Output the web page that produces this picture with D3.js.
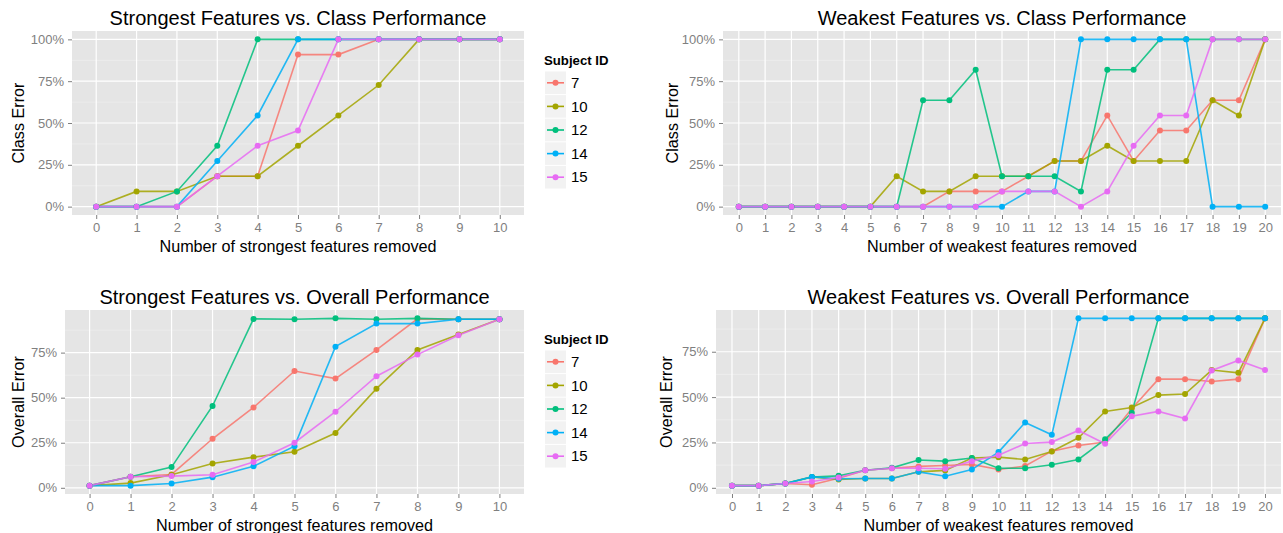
<!DOCTYPE html>
<html lang="en">
<head>
<meta charset="UTF-8">
<title>Feature removal vs. performance</title>
<script src="https://d3js.org/d3.v7.min.js"></script>
<style>
  body { margin: 0; background: #fff; }
  svg text { font-family: "Liberation Sans", Arial, Helvetica, sans-serif; }
  .tick-label { fill: #7f7f7f; font-size: 13px; }
  .axis-title { fill: #000; font-size: 16.2px; }
  .plot-title { fill: #000; font-size: 20px; }
</style>
</head>
<body>
<div id="chart"></div>
<script>
// subjects and colours (ggplot default hues)
const subjects = ["7", "10", "12", "14", "15"];
const colors = ["#F8766D", "#A3A500", "#00BF7D", "#00B0F6", "#E76BF3"];

const yTicks = [0, 0.25, 0.5, 0.75, 1];

// strongest features removed (0..10), class error
const strongSteps = d3.range(0, 11);
const strongClass = {
  "7":  [0, 0, 0, 0.182, 0.182, 0.909, 0.909, 1, 1, 1, 1],
  "10": [0, 0.091, 0.091, 0.182, 0.182, 0.364, 0.545, 0.727, 1, 1, 1],
  "12": [0, 0, 0.091, 0.364, 1, 1, 1, 1, 1, 1, 1],
  "14": [0, 0, 0, 0.273, 0.545, 1, 1, 1, 1, 1, 1],
  "15": [0, 0, 0, 0.182, 0.364, 0.455, 1, 1, 1, 1, 1]
};

// weakest features removed (0..20), class error
const weakSteps = d3.range(0, 21);
const weakClass = {
  "7":  [0, 0, 0, 0, 0, 0, 0, 0, 0.091, 0.091, 0.091, 0.182, 0.273, 0.273, 0.545, 0.273, 0.455, 0.455, 0.636, 0.636, 1],
  "10": [0, 0, 0, 0, 0, 0, 0.182, 0.091, 0.091, 0.182, 0.182, 0.182, 0.273, 0.273, 0.364, 0.273, 0.273, 0.273, 0.636, 0.545, 1],
  "12": [0, 0, 0, 0, 0, 0, 0, 0.636, 0.636, 0.818, 0.182, 0.182, 0.182, 0.091, 0.818, 0.818, 1, 1, 1, 1, 1],
  "14": [0, 0, 0, 0, 0, 0, 0, 0, 0, 0, 0, 0.091, 0.091, 1, 1, 1, 1, 1, 0, 0, 0],
  "15": [0, 0, 0, 0, 0, 0, 0, 0, 0, 0, 0.091, 0.091, 0.091, 0, 0.091, 0.364, 0.545, 0.545, 1, 1, 1]
};

// strongest features removed, overall error
const strongOverall = {
  "7":  [0.012, 0.061, 0.074, 0.272, 0.446, 0.648, 0.606, 0.765, 0.937, 0.935, 0.935],
  "10": [0.012, 0.026, 0.072, 0.135, 0.170, 0.200, 0.304, 0.550, 0.765, 0.850, 0.935],
  "12": [0.012, 0.061, 0.115, 0.454, 0.937, 0.935, 0.940, 0.935, 0.940, 0.935, 0.935],
  "14": [0.012, 0.012, 0.024, 0.059, 0.119, 0.231, 0.783, 0.911, 0.911, 0.935, 0.935],
  "15": [0.012, 0.061, 0.065, 0.072, 0.143, 0.250, 0.422, 0.619, 0.739, 0.846, 0.935]
};

// weakest features removed, overall error
const weakOverall = {
  "7":  [0.012, 0.012, 0.024, 0.017, 0.053, 0.097, 0.108, 0.118, 0.123, 0.129, 0.101, 0.120, 0.202, 0.233, 0.252, 0.436, 0.599, 0.599, 0.586, 0.599, 0.934],
  "10": [0.012, 0.012, 0.024, 0.060, 0.046, 0.051, 0.051, 0.088, 0.096, 0.164, 0.169, 0.156, 0.200, 0.276, 0.421, 0.443, 0.511, 0.517, 0.649, 0.634, 0.934],
  "12": [0.012, 0.012, 0.024, 0.060, 0.066, 0.097, 0.110, 0.153, 0.147, 0.164, 0.108, 0.108, 0.127, 0.156, 0.267, 0.414, 0.934, 0.934, 0.934, 0.934, 0.934],
  "14": [0.012, 0.012, 0.024, 0.060, 0.050, 0.051, 0.051, 0.088, 0.064, 0.101, 0.197, 0.360, 0.292, 0.934, 0.934, 0.934, 0.934, 0.934, 0.934, 0.934, 0.934],
  "15": [0.012, 0.012, 0.024, 0.035, 0.057, 0.097, 0.108, 0.108, 0.105, 0.147, 0.180, 0.244, 0.252, 0.316, 0.243, 0.395, 0.421, 0.382, 0.647, 0.702, 0.649]
};

const W = 1283, H = 533;
const svg = d3.select("#chart").append("svg")
  .attr("width", W).attr("height", H);

const panels = [
  { title: "Strongest Features vs. Class Performance", xTitle: "Number of strongest features removed",
    yTitle: "Class Error", steps: strongSteps, data: strongClass,
    left: 72, right: 524, top: 31, bottom: 215, legend: true, yTitleX: 18 },
  { title: "Weakest Features vs. Class Performance", xTitle: "Number of weakest features removed",
    yTitle: "Class Error", steps: weakSteps, data: weakClass,
    left: 723, right: 1281, top: 31, bottom: 215, legend: false, yTitleX: 672 },
  { title: "Strongest Features vs. Overall Performance", xTitle: "Number of strongest features removed",
    yTitle: "Overall Error", steps: strongSteps, data: strongOverall,
    left: 65, right: 524, top: 310, bottom: 494, legend: true, yTitleX: 18 },
  { title: "Weakest Features vs. Overall Performance", xTitle: "Number of weakest features removed",
    yTitle: "Overall Error", steps: weakSteps, data: weakOverall,
    left: 716, right: 1281, top: 310, bottom: 494, legend: false, yTitleX: 666 }
];

panels.forEach(function (p) {
  const g = svg.append("g");

  const x = d3.scalePoint()
    .domain(p.steps)
    .range([p.left, p.right])
    .padding(0.6);

  // ggplot style 5% expansion of the data range
  const all = subjects.flatMap(s => p.data[s]);
  const lo = d3.min(all), hi = d3.max(all), ex = (hi - lo) * 0.05;
  const y = d3.scaleLinear().domain([lo - ex, hi + ex]).range([p.bottom, p.top]);

  const ticks = yTicks.filter(t => t >= lo - ex && t <= hi + ex);
  const minor = d3.range(-0.125, 1.2, 0.25).filter(t => t > lo - ex && t < hi + ex);

  // panel background
  g.append("rect")
    .attr("x", p.left).attr("y", p.top)
    .attr("width", p.right - p.left).attr("height", p.bottom - p.top)
    .attr("fill", "#e5e5e5");

  // minor grid
  g.selectAll(".minor").data(minor).enter().append("line")
    .attr("x1", p.left).attr("x2", p.right)
    .attr("y1", d => y(d)).attr("y2", d => y(d))
    .attr("stroke", "#f2f2f2").attr("stroke-width", 0.6);

  // major grid
  g.selectAll(".hmajor").data(ticks).enter().append("line")
    .attr("x1", p.left).attr("x2", p.right)
    .attr("y1", d => y(d)).attr("y2", d => y(d))
    .attr("stroke", "#fff").attr("stroke-width", 1.2);
  g.selectAll(".vmajor").data(p.steps).enter().append("line")
    .attr("x1", d => x(d)).attr("x2", d => x(d))
    .attr("y1", p.top).attr("y2", p.bottom)
    .attr("stroke", "#fff").attr("stroke-width", 1.2);

  // y axis
  const yAxis = g.append("g")
    .attr("transform", "translate(" + p.left + ",0)")
    .call(d3.axisLeft(y).tickValues(ticks).tickSize(4).tickPadding(4)
      .tickFormat(d => Math.round(d * 100) + "%"));
  yAxis.select(".domain").remove();
  yAxis.selectAll("line").attr("stroke", "#7f7f7f");
  yAxis.selectAll("text").attr("class", "tick-label").attr("font-family", null).attr("font-size", null);

  // x axis
  const xAxis = g.append("g")
    .attr("transform", "translate(0," + p.bottom + ")")
    .call(d3.axisBottom(x).tickSize(4).tickPadding(4));
  xAxis.select(".domain").remove();
  xAxis.selectAll("line").attr("stroke", "#7f7f7f");
  xAxis.selectAll("text").attr("class", "tick-label").attr("font-family", null).attr("font-size", null);

  // titles
  const cx = (p.left + p.right) / 2;
  g.append("text").attr("class", "plot-title")
    .attr("x", cx).attr("y", p.top - 6).attr("text-anchor", "middle")
    .text(p.title);
  g.append("text").attr("class", "axis-title")
    .attr("x", cx).attr("y", p.bottom + 37).attr("text-anchor", "middle")
    .text(p.xTitle);
  g.append("text").attr("class", "axis-title")
    .attr("transform", "translate(" + (p.yTitleX + 6) + "," + ((p.top + p.bottom) / 2) + ") rotate(-90)")
    .attr("text-anchor", "middle")
    .text(p.yTitle);

  // series
  const line = d3.line().x((d, i) => x(p.steps[i])).y(d => y(d));
  subjects.forEach(function (s, k) {
    g.append("path")
      .datum(p.data[s])
      .attr("d", line)
      .attr("fill", "none")
      .attr("stroke", colors[k])
      .attr("stroke-opacity", 0.85)
      .attr("stroke-width", 1.6);
  });
  subjects.forEach(function (s, k) {
    g.selectAll(".pt" + k).data(p.data[s]).enter().append("circle")
      .attr("cx", (d, i) => x(p.steps[i]))
      .attr("cy", d => y(d))
      .attr("r", 3)
      .attr("fill", colors[k]);
  });

  // legend
  if (p.legend) {
    const lx = 544, ly = p.top + 37.5;
    const lg = g.append("g");
    lg.append("text")
      .attr("x", lx).attr("y", ly - 4)
      .attr("font-size", "13.2px").attr("font-weight", "bold")
      .text("Subject ID");
    subjects.forEach(function (s, k) {
      const ry = ly + 3 + k * 23.6;
      lg.append("rect")
        .attr("x", lx + 1).attr("y", ry)
        .attr("width", 21).attr("height", 22.6)
        .attr("fill", "#f2f2f2");
      lg.append("line")
        .attr("x1", lx + 3).attr("x2", lx + 20)
        .attr("y1", ry + 11.3).attr("y2", ry + 11.3)
        .attr("stroke", colors[k]).attr("stroke-width", 1.6);
      lg.append("circle")
        .attr("cx", lx + 11.5).attr("cy", ry + 11.3).attr("r", 3)
        .attr("fill", colors[k]);
      lg.append("text")
        .attr("x", lx + 27).attr("y", ry + 16.5)
        .attr("font-size", "15px").attr("fill", "#000")
        .text(s);
    });
  }
});
</script>
</body>
</html>
